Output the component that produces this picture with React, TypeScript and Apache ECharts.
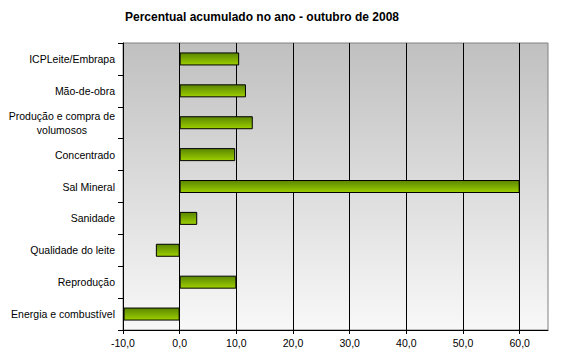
import React, { useEffect, useRef } from "react";
import * as echarts from "echarts";

const categories = [
  "ICPLeite/Embrapa",
  "Mão-de-obra",
  "Produção e compra de volumosos",
  "Concentrado",
  "Sal Mineral",
  "Sanidade",
  "Qualidade do leite",
  "Reprodução",
  "Energia e combustível",
];
const values = [10.5, 11.7, 12.9, 9.8, 60.0, 3.1, -4.2, 10.0, -9.9];
const titleText = "Percentual acumulado no ano - outubro de 2008";
const xMin = -10;
const xMax = 65;
const xInterval = 10;

const FONT = "Liberation Sans, Arial, sans-serif";

export default function App() {
  const ref = useRef<HTMLDivElement>(null);
  useEffect(() => {
    document.body.style.margin = "0";
    const chart = echarts.init(ref.current!, undefined, { renderer: "svg" });
    chart.setOption({
      animation: false,
      backgroundColor: "#ffffff",
      graphic: [
        {
          type: "text",
          x: 262,
          y: 17,
          style: {
            text: titleText,
            align: "center",
            verticalAlign: "middle",
            font: `bold 12px ${FONT}`,
            fill: "#000",
          },
        },
      ],
      grid: {
        left: 123,
        right: 17,
        top: 43,
        bottom: 29,
        show: true,
        borderColor: "#808080",
        borderWidth: 1,
        backgroundColor: new echarts.graphic.LinearGradient(0, 0, 0, 1, [
          { offset: 0, color: "#c0c0c0" },
          { offset: 1, color: "#f8f8f8" },
        ]),
      },
      xAxis: {
        type: "value",
        min: xMin,
        max: xMax,
        interval: xInterval,
        position: "bottom",
        axisLine: { show: true, onZero: false, lineStyle: { color: "#000", width: 1 } },
        axisTick: { show: true, length: 4, lineStyle: { color: "#000" } },
        splitLine: {
          show: true,
          showMinLine: false,
          showMaxLine: false,
          lineStyle: { color: "#000", width: 1 },
        },
        axisLabel: {
          show: true,
          margin: 7,
          color: "#000",
          fontFamily: FONT,
          fontSize: 10.5,
          showMaxLabel: false,
          formatter: (v: number) => (v > 60 ? "" : v.toFixed(1).replace(".", ",")),
        },
      },
      yAxis: [
        {
          type: "category",
          data: categories,
          inverse: true,
          position: "left",
          axisLine: { show: false },
          axisTick: { show: false },
          axisLabel: {
            margin: 8,
            color: "#000",
            fontFamily: FONT,
            fontSize: 10.5,
            formatter: (v: string) =>
              v === "Produção e compra de volumosos"
                ? "{c|Produção e compra de}\n{c|volumosos}"
                : v,
            rich: {
              c: {
                align: "center",
                color: "#000",
                fontFamily: FONT,
                fontSize: 10.5,
                lineHeight: 14,
              },
            },
          },
        },
        {
          type: "category",
          data: categories,
          inverse: true,
          position: "left",
          axisLine: { show: true, onZero: true, lineStyle: { color: "#000", width: 1 } },
          axisTick: { show: true, length: 5, lineStyle: { color: "#000" } },
          axisLabel: { show: false },
          splitLine: { show: false },
        },
      ],
      series: [
        {
          type: "bar",
          yAxisIndex: 0,
          data: values,
          barWidth: 13,
          itemStyle: {
            color: new echarts.graphic.LinearGradient(0, 0, 0, 1, [
              { offset: 0, color: "#5a8600" },
              { offset: 1, color: "#9dcf00" },
            ]),
            borderColor: "#000",
            borderWidth: 1,
          },
        },
      ],
    });
    return () => chart.dispose();
  }, []);
  return <div ref={ref} style={{ width: 565, height: 359 }} />;
}
